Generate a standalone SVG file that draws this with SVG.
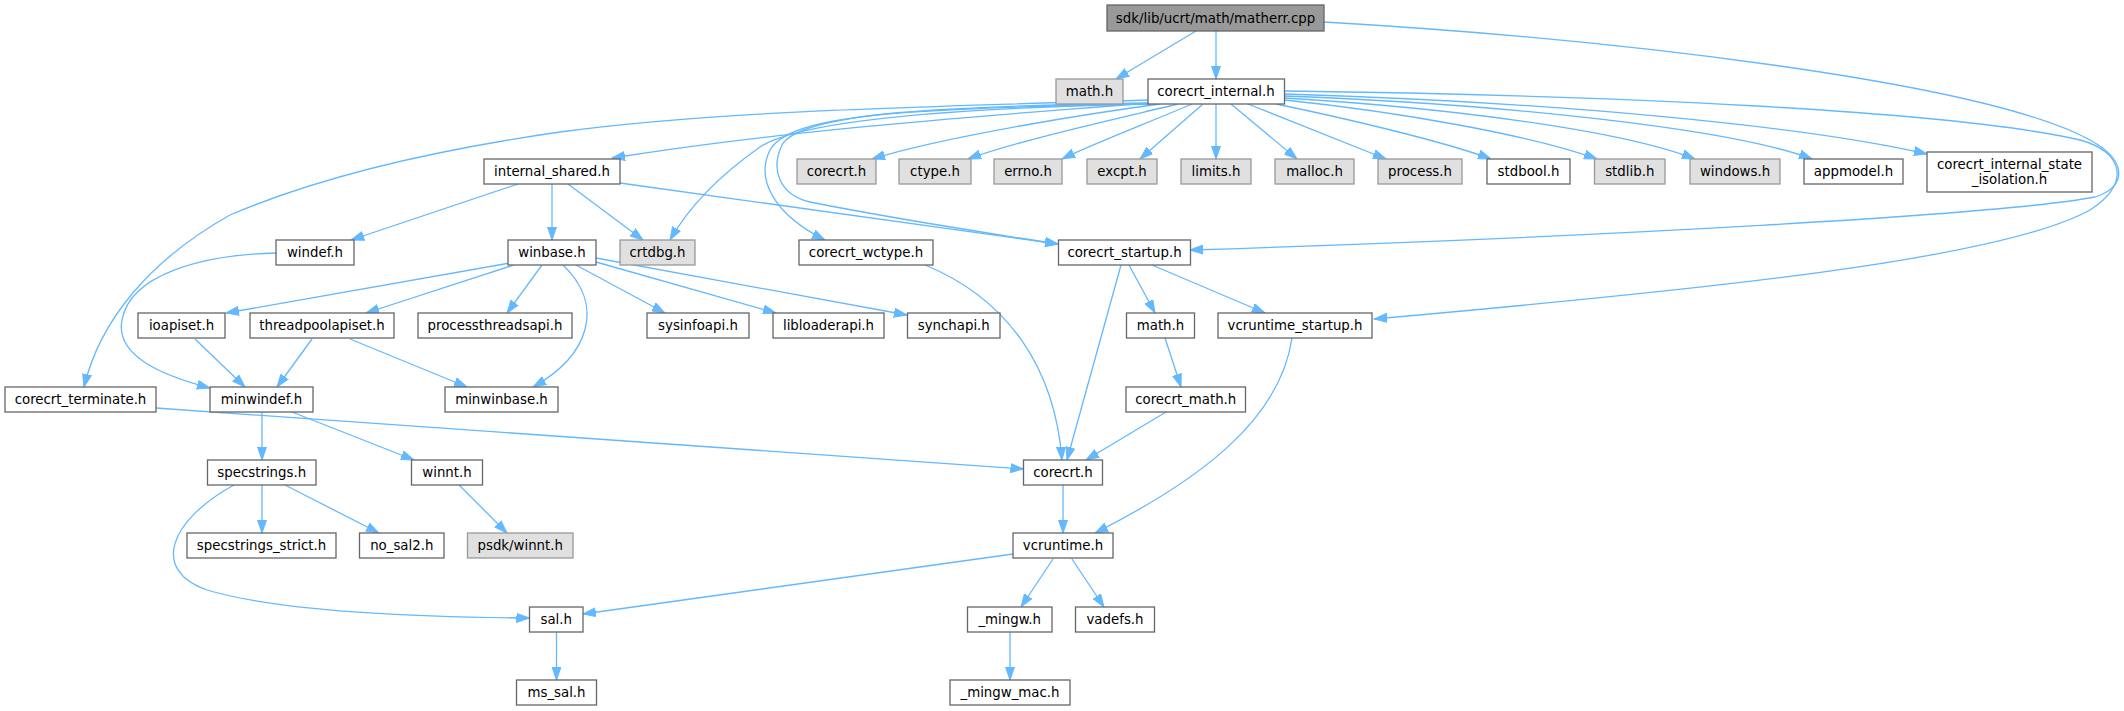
<svg xmlns="http://www.w3.org/2000/svg" width="2124" height="711" viewBox="0 0 2124 711">
<style>
text{font-family:"DejaVu Sans","Liberation Sans",sans-serif;font-size:13.33px;fill:#000;text-anchor:middle}
.w rect{fill:#fff;stroke:#666;stroke-width:1.3}
.g rect{fill:#e0e0e0;stroke:#999;stroke-width:1.3}
.m rect{fill:#999;stroke:#666;stroke-width:1.3}
#edges path{fill:none;stroke:#63b8ff;stroke-width:1.3;marker-end:url(#a)}
</style>
<defs>
<marker id="a" markerWidth="14" markerHeight="10" refX="13" refY="5" orient="auto" markerUnits="userSpaceOnUse">
<path d="M0,0.5 L13,5 L0,9.5 z" fill="#63b8ff" stroke="#63b8ff" stroke-width="1"/>
</marker>
</defs>
<rect width="2124" height="711" fill="#fff"/>
<g id="edges">
<path d="M1196,31 L1116,79"/>
<path d="M1216,31 L1216,79"/>
<path d="M1324,22 C1600,38 1980,80 2090,140 C2130,162 2125,188 2095,197 C2000,215 1600,237 1190,250"/>
<path d="M1284.5,91 C1600,95 1950,110 2080,140 C2125,152 2130,185 2090,210 C2000,260 1700,290 1374,319"/>
<path d="M1160,104 C1100,112 950,135 872,159"/>
<path d="M1178,104 C1120,118 1020,140 968,159"/>
<path d="M1192,104 C1150,122 1090,145 1062,159"/>
<path d="M1203,104 L1140,159"/>
<path d="M1216,104 L1216,159"/>
<path d="M1231,104 L1297,159"/>
<path d="M1248,104 L1386,159"/>
<path d="M1276,104 C1330,115 1440,140 1491,159"/>
<path d="M1284.5,100 C1400,112 1530,135 1597,159"/>
<path d="M1284.5,98 C1450,108 1620,130 1695,159"/>
<path d="M1284.5,96 C1500,104 1730,128 1812,159"/>
<path d="M1284.5,94 C1550,102 1800,125 1927,154"/>
<path d="M1148,100 C950,106 720,110 560,132 C400,155 300,185 230,215 C150,260 100,320 84,387"/>
<path d="M1148,103 C1000,115 800,128 612,158"/>
<path d="M1150,104 C950,108 800,120 760,147 C720,175 690,205 670,240"/>
<path d="M1150,104 C900,108 790,115 770,150 C755,180 775,215 825,240"/>
<path d="M1150,103 C950,106 800,112 782,145 C770,170 780,195 810,202 C900,220 1000,235 1058,244"/>
<path d="M620,183 L1058,244"/>
<path d="M568,184 L643,240"/>
<path d="M552,184 L552,240"/>
<path d="M518,184 L351,240"/>
<path d="M276,253 C200,255 130,275 122,320 C115,355 160,375 210,388"/>
<path d="M510,263 L226,313"/>
<path d="M514,265 L366,313"/>
<path d="M542,265 L507,313"/>
<path d="M563,265 C605,305 590,355 533,387"/>
<path d="M576,265 L665,313"/>
<path d="M596,262 L776,313"/>
<path d="M596,258 L907,315"/>
<path d="M195,339 L245,387"/>
<path d="M312,339 L277,387"/>
<path d="M350,339 L467,387"/>
<path d="M262,412 L262,460"/>
<path d="M292,412 L414,460"/>
<path d="M156,408 L1023.5,469"/>
<path d="M925,265 C1010,300 1055,370 1062,460"/>
<path d="M1121,265 L1067,460"/>
<path d="M1129,265 L1155,313"/>
<path d="M1152,265 L1265,313"/>
<path d="M1165,338 L1181,387"/>
<path d="M1166,412 L1086,460"/>
<path d="M1292,338 C1280,420 1200,480 1095,533"/>
<path d="M1063,485 L1063,533"/>
<path d="M1013,554 L583,614"/>
<path d="M1053,559 L1021,607"/>
<path d="M1072,559 L1104,607"/>
<path d="M1010,632 L1010,680"/>
<path d="M262,485 L262,533"/>
<path d="M285,485 L379,533"/>
<path d="M234,485 C170,520 150,570 207,590 C280,612 420,617 529.5,618"/>
<path d="M459,485 L507,533"/>
<path d="M556.5,632 L556.5,680"/>
</g>
<g id="n_main" class="m"><rect x="1107" y="5" width="217" height="26"/><text x="1215.5" y="23">sdk/lib/ucrt/math/matherr.cpp</text></g>
<g id="n_math1" class="g"><rect x="1056" y="79" width="67" height="25"/><text x="1089.5" y="96">math.h</text></g>
<g id="n_corecrt_internal" class="w"><rect x="1148" y="79" width="136.5" height="25"/><text x="1216" y="96">corecrt_internal.h</text></g>
<g id="n_internal_shared" class="w"><rect x="484" y="159" width="136" height="25"/><text x="552" y="176">internal_shared.h</text></g>
<g id="n_corecrt_g" class="g"><rect x="797" y="159" width="79" height="25"/><text x="836.5" y="176">corecrt.h</text></g>
<g id="n_ctype" class="g"><rect x="899" y="159" width="72" height="25"/><text x="935" y="176">ctype.h</text></g>
<g id="n_errno" class="g"><rect x="994" y="159" width="68" height="25"/><text x="1028" y="176">errno.h</text></g>
<g id="n_excpt" class="g"><rect x="1087" y="159" width="70" height="25"/><text x="1122" y="176">excpt.h</text></g>
<g id="n_limits" class="g"><rect x="1181" y="159" width="70" height="25"/><text x="1216" y="176">limits.h</text></g>
<g id="n_malloc" class="g"><rect x="1275" y="159" width="79" height="25"/><text x="1314.5" y="176">malloc.h</text></g>
<g id="n_process" class="g"><rect x="1378" y="159" width="84" height="25"/><text x="1420" y="176">process.h</text></g>
<g id="n_stdbool" class="w"><rect x="1487" y="159" width="83" height="25"/><text x="1528.5" y="176">stdbool.h</text></g>
<g id="n_stdlib" class="g"><rect x="1594.5" y="159" width="70.5" height="25"/><text x="1629.75" y="176">stdlib.h</text></g>
<g id="n_windows" class="g"><rect x="1690" y="159" width="90" height="25"/><text x="1735" y="176">windows.h</text></g>
<g id="n_appmodel" class="w"><rect x="1804" y="159" width="99" height="25"/><text x="1853.5" y="176">appmodel.h</text></g>
<g id="n_state_isolation" class="w"><rect x="1927" y="152" width="165" height="40"/><text x="2009.5" y="168.5">corecrt_internal_state</text><text x="2009.5" y="183.5">_isolation.h</text></g>
<g id="n_windef" class="w"><rect x="276" y="240" width="78" height="25"/><text x="315" y="257">windef.h</text></g>
<g id="n_winbase" class="w"><rect x="508" y="240" width="88" height="25"/><text x="552" y="257">winbase.h</text></g>
<g id="n_crtdbg" class="g"><rect x="620" y="240" width="75" height="25"/><text x="657.5" y="257">crtdbg.h</text></g>
<g id="n_corecrt_wctype" class="w"><rect x="799" y="240" width="134" height="25"/><text x="866" y="257">corecrt_wctype.h</text></g>
<g id="n_corecrt_startup" class="w"><rect x="1058.5" y="240" width="132" height="25"/><text x="1124.5" y="257">corecrt_startup.h</text></g>
<g id="n_ioapiset" class="w"><rect x="138" y="313" width="87" height="25"/><text x="181.5" y="330">ioapiset.h</text></g>
<g id="n_threadpoolapiset" class="w"><rect x="250" y="313" width="144" height="25"/><text x="322" y="330">threadpoolapiset.h</text></g>
<g id="n_processthreadsapi" class="w"><rect x="418" y="313" width="154" height="25"/><text x="495" y="330">processthreadsapi.h</text></g>
<g id="n_sysinfoapi" class="w"><rect x="647" y="313" width="102" height="25"/><text x="698" y="330">sysinfoapi.h</text></g>
<g id="n_libloaderapi" class="w"><rect x="773" y="313" width="111" height="25"/><text x="828.5" y="330">libloaderapi.h</text></g>
<g id="n_synchapi" class="w"><rect x="907.5" y="313" width="92.5" height="25"/><text x="953.75" y="330">synchapi.h</text></g>
<g id="n_math2" class="w"><rect x="1126.5" y="313" width="68" height="25"/><text x="1160.5" y="330">math.h</text></g>
<g id="n_vcruntime_startup" class="w"><rect x="1218" y="313" width="154" height="25"/><text x="1295" y="330">vcruntime_startup.h</text></g>
<g id="n_corecrt_terminate" class="w"><rect x="5" y="387" width="151" height="25"/><text x="80.5" y="404">corecrt_terminate.h</text></g>
<g id="n_minwindef" class="w"><rect x="210" y="387" width="103" height="25"/><text x="261.5" y="404">minwindef.h</text></g>
<g id="n_minwinbase" class="w"><rect x="445" y="387" width="113" height="25"/><text x="501.5" y="404">minwinbase.h</text></g>
<g id="n_corecrt_math" class="w"><rect x="1126" y="387" width="119.5" height="25"/><text x="1185.75" y="404">corecrt_math.h</text></g>
<g id="n_specstrings" class="w"><rect x="207.5" y="460" width="108.5" height="25"/><text x="261.75" y="477">specstrings.h</text></g>
<g id="n_winnt" class="w"><rect x="411.5" y="460" width="71" height="25"/><text x="447" y="477">winnt.h</text></g>
<g id="n_corecrt_w" class="w"><rect x="1023.5" y="460" width="79" height="25"/><text x="1063" y="477">corecrt.h</text></g>
<g id="n_specstrings_strict" class="w"><rect x="187" y="533" width="149" height="25"/><text x="261.5" y="550">specstrings_strict.h</text></g>
<g id="n_no_sal2" class="w"><rect x="359.5" y="533" width="84.5" height="25"/><text x="401.75" y="550">no_sal2.h</text></g>
<g id="n_psdk_winnt" class="g"><rect x="467.5" y="533" width="105.5" height="25"/><text x="520.25" y="550">psdk/winnt.h</text></g>
<g id="n_vcruntime" class="w"><rect x="1013" y="533" width="100" height="25"/><text x="1063" y="550">vcruntime.h</text></g>
<g id="n_sal" class="w"><rect x="529.5" y="607" width="53.5" height="25"/><text x="556.25" y="624">sal.h</text></g>
<g id="n_mingw" class="w"><rect x="967.5" y="607" width="84.5" height="25"/><text x="1009.75" y="624">_mingw.h</text></g>
<g id="n_vadefs" class="w"><rect x="1075.5" y="607" width="79" height="25"/><text x="1115" y="624">vadefs.h</text></g>
<g id="n_ms_sal" class="w"><rect x="516.5" y="680" width="80" height="25"/><text x="556.5" y="697">ms_sal.h</text></g>
<g id="n_mingw_mac" class="w"><rect x="950" y="680" width="120" height="25"/><text x="1010" y="697">_mingw_mac.h</text></g>
</svg>
